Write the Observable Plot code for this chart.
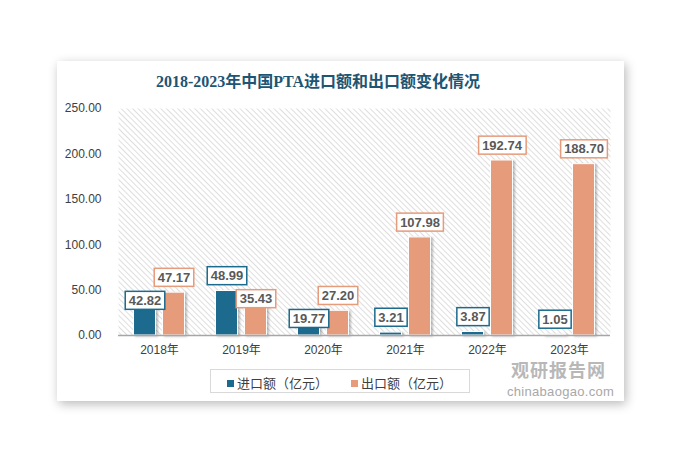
<!DOCTYPE html>
<html>
<head>
<meta charset="utf-8">
<script src="https://cdn.jsdelivr.net/npm/d3@7"></script>
<script src="https://cdn.jsdelivr.net/npm/@observablehq/plot@0.6"></script>
<style>
  html, body { margin: 0; padding: 0; background: #ffffff; width: 681px; height: 453px; overflow: hidden; }
  #card { position: absolute; left: 57px; top: 61px; width: 567px; height: 340px; background: #fff;
          box-shadow: 2px 3px 10px rgba(0,0,0,0.28); }
  #title { position: absolute; left: 0; top: 7px; width: 522px; text-align: center;
           font: bold 16px "Liberation Serif", "Noto Sans CJK SC", serif; color: #1d5573; }
  #chart { position: absolute; left: 0; top: 35px; }
  #legend { position: absolute; left: 153px; top: 308px; width: 258px; height: 22px; border: 1px solid #d9d9d9;
            font: 13px "Liberation Sans", "Noto Sans CJK SC", sans-serif; color: #404040; }
  .lg { position: absolute; top: 3px; white-space: nowrap; }
  .sw { display: inline-block; width: 7px; height: 7px; margin-right: 3px; vertical-align: 1px; }
  #wm1 { position: absolute; left: 454px; top: 299px; font: bold 18px/18px "Noto Sans CJK SC", sans-serif; color: #b8b8b8; letter-spacing: 1px; }
  #wm2 { position: absolute; left: 450px; top: 324px; font: 13px/14px "Liberation Sans", sans-serif; color: #a8a8a8; letter-spacing: 0.3px; }
  svg g[aria-label="bar"] rect { filter: drop-shadow(2px 1px 1px rgba(0,0,0,0.25)); }
</style>
</head>
<body>
<div id="card">
  <div id="title">2018-2023年中国PTA进口额和出口额变化情况</div>
  <div id="chart"></div>
  <div id="wm1">观研报告网</div>
  <div id="wm2">chinabaogao.com</div>
  <div id="legend"></div>
</div>
<script>
const years = ["2018年", "2019年", "2020年", "2021年", "2022年", "2023年"];
const importValues = [42.82, 48.99, 19.77, 3.21, 3.87, 1.05];
const exportValues = [47.17, 35.43, 27.20, 107.98, 192.74, 188.70];
const seriesNames = ["进口额（亿元）", "出口额（亿元）"];
const yTicks = [0, 50, 100, 150, 200, 250];

const colors = ["#1c6a8d", "#e69b7b"];
const W = 567, H = 270, mT = 12, mB = 31, mL = 61, mR = 14;

// pixel scale used only to stagger overlapping value labels
const yPix = d3.scaleLinear().domain([0, 250]).range([H - mB, mT]);
const lift = 15, gap = 23;
const importData = [], exportData = [];
years.forEach((year, i) => {
  const a = importValues[i], b = exportValues[i];
  let ca = yPix(a) - lift, cb = yPix(b) - lift;
  if (a >= b) { if (cb - ca < gap) cb = ca + gap; }
  else { if (ca - cb < gap) ca = cb + gap; }
  importData.push({year, value: a, labelY: yPix.invert(ca)});
  exportData.push({year, value: b, labelY: yPix.invert(cb)});
});

const labelStyle = {fontSize: 13, fontWeight: "bold", fill: "#595959",
  fontFamily: "'Liberation Sans', Arial, sans-serif"};

const chart = Plot.plot({
  width: W, height: H,
  marginTop: mT, marginBottom: mB, marginLeft: mL, marginRight: mR,
  style: {fontFamily: "'Liberation Sans', 'Noto Sans CJK SC', sans-serif", fontSize: "12px", color: "#404040", background: "transparent"},
  x: {domain: years, padding: 0, label: null, tickSize: 0, tickPadding: 10},
  y: {domain: [0, 250], ticks: yTicks, tickFormat: d => d.toFixed(2), label: null, tickSize: 0, tickPadding: 17},
  marks: [
    Plot.frame({fill: "url(#hatch)", stroke: "none"}),
    Plot.barY(importData, {x: "year", y: "value", fill: colors[0], stroke: "white", strokeWidth: 1, insetLeft: 15.5, insetRight: 44.5}),
    Plot.barY(exportData, {x: "year", y: "value", fill: colors[1], stroke: "white", strokeWidth: 1, insetLeft: 44.5, insetRight: 15.5}),
    Plot.ruleY([0], {stroke: "#a6a6a6", strokeWidth: 1.5}),
    Plot.text(importData, {x: "year", y: "labelY", text: d => d.value.toFixed(2), dx: -14.5, ...labelStyle}),
    Plot.text(exportData, {x: "year", y: "labelY", text: d => d.value.toFixed(2), dx: 14.5, ...labelStyle})
  ]
});
document.getElementById("chart").appendChild(chart);

// hatch pattern for the plot background
const ns = "http://www.w3.org/2000/svg";
const defs = document.createElementNS(ns, "defs");
defs.innerHTML = '<pattern id="hatch" patternUnits="userSpaceOnUse" width="4" height="4" patternTransform="rotate(-45)">' +
  '<rect width="4" height="4" fill="#ffffff"/><rect x="0" y="0" width="1" height="4" fill="#dedede"/></pattern>';
chart.insertBefore(defs, chart.firstChild);

// boxed value labels
const textGroups = chart.querySelectorAll('g[aria-label="text"]');
textGroups.forEach((g, k) => {
  g.querySelectorAll("text").forEach(t => {
    const bb = t.getBBox();
    const r = document.createElementNS(ns, "rect");
    r.setAttribute("x", bb.x - 3.5);
    r.setAttribute("y", bb.y - 1.5);
    r.setAttribute("width", bb.width + 7);
    r.setAttribute("height", bb.height + 3);
    r.setAttribute("fill", "#ffffff");
    r.setAttribute("stroke", colors[k]);
    r.setAttribute("stroke-width", "1.5");
    if (t.getAttribute("transform")) r.setAttribute("transform", t.getAttribute("transform"));
    g.insertBefore(r, t);
  });
});

// legend
const legend = document.getElementById("legend");
const lefts = [16, 140];
seriesNames.forEach((name, i) => {
  const item = document.createElement("div");
  item.className = "lg";
  item.style.left = lefts[i] + "px";
  item.innerHTML = '<span class="sw" style="background:' + colors[i] + '"></span>' + name;
  legend.appendChild(item);
});
</script>
</body>
</html>
